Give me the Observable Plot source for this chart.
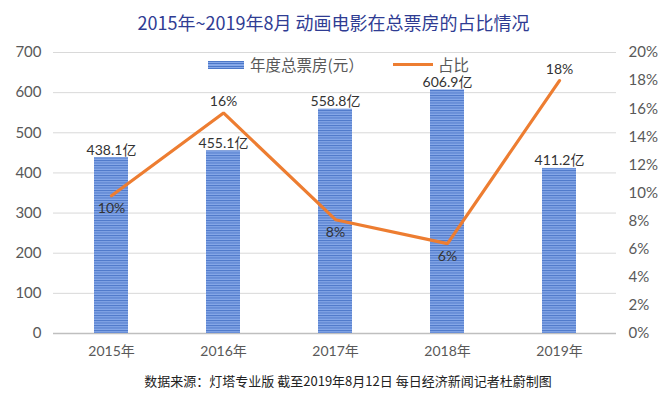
<!DOCTYPE html>
<html><head><meta charset="utf-8">
<script src="https://cdn.jsdelivr.net/npm/d3@7"></script>
<script src="https://cdn.jsdelivr.net/npm/@observablehq/plot@0.6"></script>
<style>
body{margin:0;background:#fff;font-family:Lato,"Noto Sans CJK SC",sans-serif;}
#wrap{position:relative;width:667px;height:395px;overflow:hidden;background:#fff}
#title{position:absolute;left:0;top:9px;width:667px;text-align:center;font-size:18px;line-height:26px;color:#2f3c93;font-family:"Noto Sans CJK SC",sans-serif}
#chart{position:absolute;left:0;top:40px}
.lg{position:absolute;font-size:15.5px;line-height:18px;color:#595959;font-family:"Noto Sans CJK SC",sans-serif}
#sw1{position:absolute;left:208px;top:61px;width:36px;height:8px;background:repeating-linear-gradient(to bottom,#4c77c8 0px,#4c77c8 1px,#86a8e8 1px,#86a8e8 2.5px)}
#sw2{position:absolute;left:393px;top:63px;width:40px;height:3px;background:#ed7d31}
#caption{position:absolute;left:28px;top:371px;width:640px;text-align:center;font-size:13px;line-height:20px;color:#222;font-family:"Noto Sans CJK SC",sans-serif}
</style>
</head><body>
<div id="wrap">
  <div id="title"></div>
  <div id="chart"></div>
  <div id="sw1"></div><div class="lg" id="lg1" style="left:250px;top:55px"></div>
  <div id="sw2"></div><div class="lg" id="lg2" style="left:438px;top:55px"></div>
  <div id="caption"></div>
</div>
<script>
const titleText = "2015年~2019年8月 动画电影在总票房的占比情况";
const captionText = "数据来源：灯塔专业版 截至2019年8月12日 每日经济新闻记者杜蔚制图";
const seriesNames = ["年度总票房(元）", "占比"];
const years = ["2015年", "2016年", "2017年", "2018年", "2019年"];
const boxOffice = [438.1, 455.1, 558.8, 606.9, 411.2];
const boxOfficeLabels = ["438.1亿", "455.1亿", "558.8亿", "606.9亿", "411.2亿"];
const share = [9.8, 15.7, 8.1, 6.4, 18.0];
const shareLabels = ["10%", "16%", "8%", "6%", "18%"];
const leftTicks = [0, 100, 200, 300, 400, 500, 600, 700];
const rightTicks = [0, 2, 4, 6, 8, 10, 12, 14, 16, 18, 20];

document.getElementById("title").textContent = titleText;
document.getElementById("caption").textContent = captionText;
document.getElementById("lg1").textContent = seriesNames[0];
document.getElementById("lg2").textContent = seriesNames[1];

const k = leftTicks[leftTicks.length - 1] / rightTicks[rightTicks.length - 1];
const rows = years.map((y, i) => {
  const prev = share[i - 1], next = share[i + 1];
  const peak = (prev === undefined || share[i] > prev) && (next === undefined || share[i] > next);
  return {year: y, box: boxOffice[i], boxLabel: boxOfficeLabels[i], share: share[i], shareY: share[i] * k, shareLabel: shareLabels[i], above: peak};
});

const font = 'Lato, "Noto Sans CJK SC", sans-serif';
const chart = Plot.plot({
  width: 667,
  height: 328,
  marginTop: 12,
  marginBottom: 35,
  marginLeft: 53,
  marginRight: 51,
  style: {fontFamily: font, fontSize: "14px", color: "#595959", background: "transparent"},
  x: {domain: years, paddingInner: 0.7, paddingOuter: 0.35, label: null},
  y: {domain: [0, 700], label: null},
  marks: [
    Plot.gridY(leftTicks, {stroke: "#d9d9d9", strokeOpacity: 1, strokeWidth: 1}),
    Plot.ruleY([0], {stroke: "#bfbfbf", strokeWidth: 1.5}),
    Plot.axisY(leftTicks, {anchor: "left", tickSize: 0, tickPadding: 12, fontSize: 15, fill: "#595959", label: null}),
    Plot.axisY(rightTicks.map(d => d * k), {anchor: "right", tickSize: 0, tickPadding: 12, fontSize: 15, fill: "#595959", tickFormat: d => Math.round(d / k) + "%", label: null}),
    Plot.axisX({tickSize: 0, tickPadding: 13, fontSize: 14, fill: "#595959", label: null}),
    Plot.barY(rows, {x: "year", y: "box", fill: "url(#barPat)"}),
    Plot.text(rows, {x: "year", y: "box", text: "boxLabel", dy: -3, lineAnchor: "bottom", fontSize: 14, fill: "#333"}),
    Plot.line(rows, {x: "year", y: "shareY", stroke: "#ed7d31", strokeWidth: 3.2, strokeLinejoin: "miter"}),
    Plot.text(rows.filter(d => d.above), {x: "year", y: "shareY", text: "shareLabel", dy: -11, fontSize: 14, fill: "#333"}),
    Plot.text(rows.filter(d => !d.above), {x: "year", y: "shareY", text: "shareLabel", dy: 13, fontSize: 14, fill: "#333"})
  ]
});

const defs = d3.select(chart).insert("defs", ":first-child");
const pat = defs.append("pattern").attr("id", "barPat").attr("patternUnits", "userSpaceOnUse").attr("width", 10).attr("height", 2.5);
pat.append("rect").attr("width", 10).attr("height", 2.5).attr("fill", "#86a8e8");
pat.append("rect").attr("width", 10).attr("height", 1).attr("fill", "#4c77c8");
document.getElementById("chart").appendChild(chart);
</script>
</body></html>
